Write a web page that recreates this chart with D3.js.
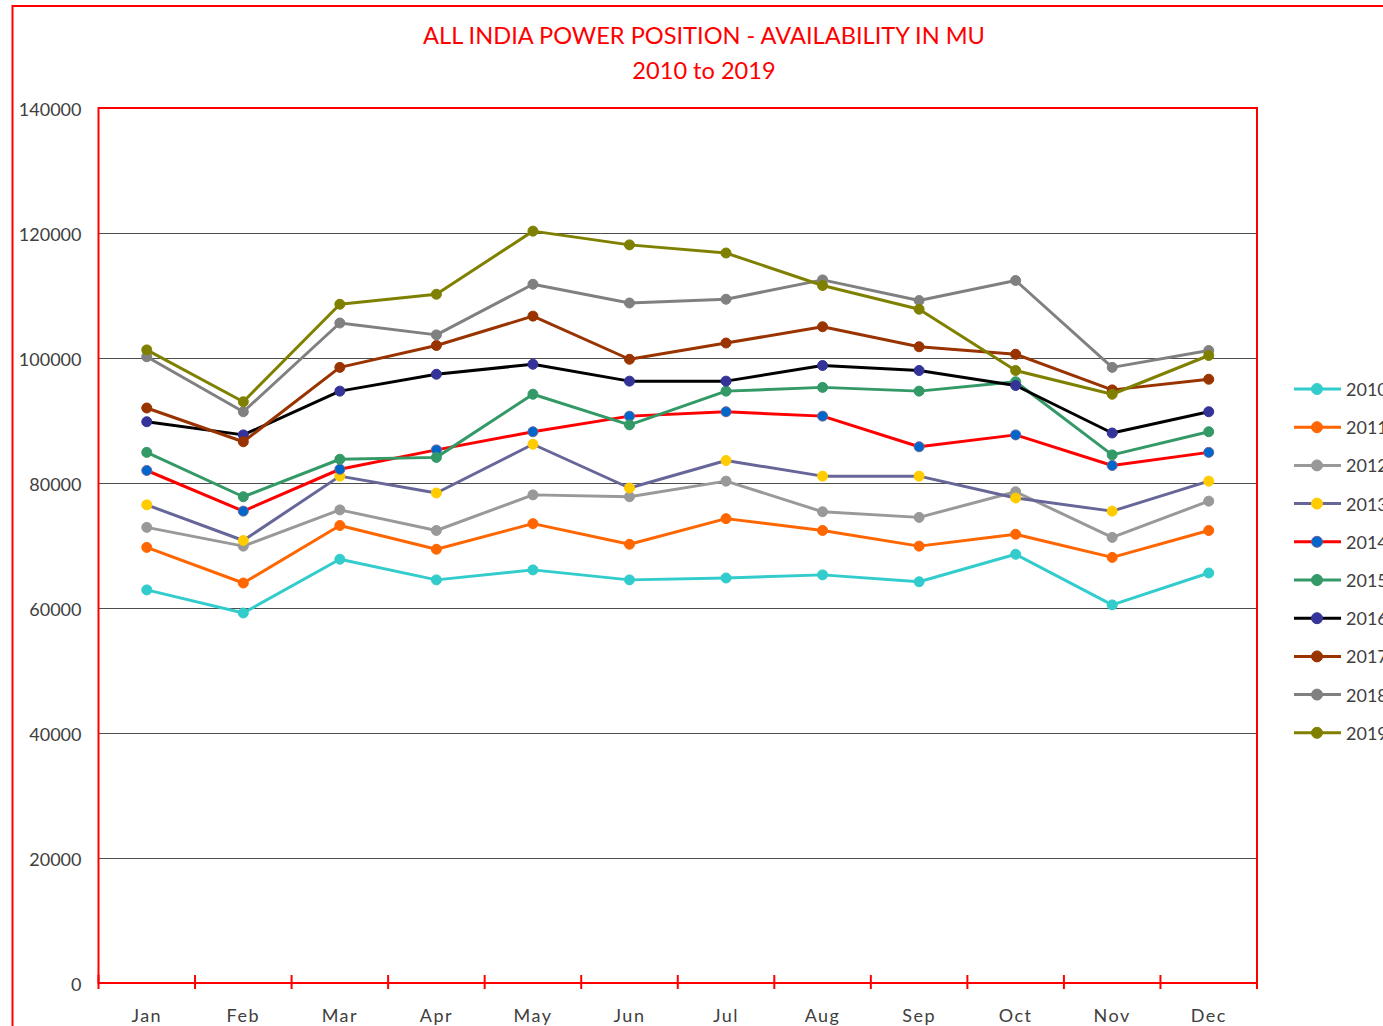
<!DOCTYPE html>
<html>
<head>
<meta charset="utf-8">
<script src="https://cdnjs.cloudflare.com/ajax/libs/d3/7.8.5/d3.min.js"></script>
<style>
  html, body { margin: 0; padding: 0; background: #fff; overflow: hidden; }
  svg { display: block; font-family: Lato, "Liberation Sans", sans-serif; }
</style>
</head>
<body>
<div id="chart"></div>
<script>
// DATA =====================================
const months = ["Jan", "Feb", "Mar", "Apr", "May", "Jun", "Jul", "Aug", "Sep", "Oct", "Nov", "Dec"];
const years = ["2010", "2011", "2012", "2013", "2014", "2015", "2016", "2017", "2018", "2019"];
const yTicks = [0, 20000, 40000, 60000, 80000, 100000, 120000, 140000];

const v2010 = [62900, 59200, 67800, 64500, 66100, 64500, 64800, 65300, 64200, 68600, 60500, 65600];
const v2011 = [69700, 64000, 73200, 69400, 73500, 70200, 74300, 72400, 69900, 71800, 68100, 72400];
const v2012 = [72900, 69900, 75700, 72400, 78100, 77800, 80300, 75400, 74500, 78600, 71300, 77100];
const v2013 = [76500, 70800, 81100, 78400, 86200, 79200, 83600, 81100, 81100, 77600, 75500, 80300];
const v2014 = [82000, 75500, 82200, 85300, 88200, 90700, 91400, 90700, 85800, 87700, 82800, 84900];
const v2015 = [84900, 77800, 83800, 84100, 94200, 89300, 94700, 95300, 94700, 96200, 84500, 88200];
const v2016 = [89800, 87700, 94700, 97400, 99000, 96300, 96300, 98800, 98000, 95600, 88000, 91400];
const v2017 = [92000, 86600, 98500, 102000, 106700, 99800, 102400, 105000, 101800, 100600, 94900, 96600];
const v2018 = [100200, 91400, 105600, 103700, 111800, 108800, 109400, 112500, 109200, 112400, 98500, 101200];
const v2019 = [101300, 93000, 108600, 110200, 120300, 118100, 116800, 111600, 107800, 98000, 94200, 100400];

const seriesValues = [v2010, v2011, v2012, v2013, v2014, v2015, v2016, v2017, v2018, v2019];

// line colour / marker fill / marker stroke per year
const lineColors   = ["#33CCCC", "#FF6600", "#999999", "#666699", "#FF0000", "#339966", "#000000", "#993300", "#808080", "#808000"];
const markerColors = ["#33CCCC", "#FF6600", "#999999", "#FFCC00", "#0066CC", "#339966", "#333399", "#993300", "#808080", "#808000"];
const markerStroke = ["#33CCCC", "#FF6600", "#999999", "#FFCC00", "#666699", "#339966", "#333399", "#993300", "#808080", "#808000"];

// LAYOUT ===================================
const width = 1383, height = 1026;
const plot = { left: 98.5, right: 1257, top: 108, bottom: 983 };

const svg = d3.select("#chart")
  .append("svg")
  .attr("width", width)
  .attr("height", height);

// outer chart frame (runs off the right/bottom edge)
svg.append("rect")
  .attr("x", 12.5)
  .attr("y", 6)
  .attr("width", width + 20)
  .attr("height", height + 20)
  .attr("fill", "none")
  .attr("stroke", "#FF0000")
  .attr("stroke-width", 2);

// title
svg.append("text")
  .attr("x", 704)
  .attr("y", 44)
  .attr("text-anchor", "middle")
  .attr("fill", "#FF0000")
  .style("font-size", "23.6px")
  .text("ALL INDIA POWER POSITION - AVAILABILITY IN MU");

svg.append("text")
  .attr("x", 704)
  .attr("y", 79)
  .attr("text-anchor", "middle")
  .attr("fill", "#FF0000")
  .style("font-size", "23.6px")
  .text("2010 to 2019");

// SCALES ===================================
const xScale = d3.scaleBand()
  .domain(months)
  .range([plot.left, plot.right])
  .padding(0);

const xPos = m => xScale(m) + xScale.bandwidth() / 2;

const yScale = d3.scaleLinear()
  .domain([0, 140000])
  .range([plot.bottom, plot.top]);

// gridlines
svg.append("g")
  .selectAll("line")
  .data(yTicks.filter(d => d > 0 && d < 140000))
  .join("line")
  .attr("x1", plot.left)
  .attr("x2", plot.right)
  .attr("y1", d => yScale(d) + 0.5)
  .attr("y2", d => yScale(d) + 0.5)
  .attr("stroke", "#4d4d4d")
  .attr("stroke-width", 1);

// plot area border
svg.append("rect")
  .attr("x", plot.left)
  .attr("y", plot.top)
  .attr("width", plot.right - plot.left)
  .attr("height", plot.bottom - plot.top)
  .attr("fill", "none")
  .attr("stroke", "#FF0000")
  .attr("stroke-width", 2);

// y axis labels
const yAxis = d3.axisLeft(yScale)
  .tickValues(yTicks)
  .tickSize(0)
  .tickPadding(17)
  .tickFormat(d3.format("d"));

svg.append("g")
  .attr("transform", `translate(${plot.left}, 2)`)
  .call(yAxis)
  .call(g => g.select(".domain").remove())
  .call(g => g.selectAll("text")
    .attr("fill", "#404040")
    .style("font-family", "Lato, 'Liberation Sans', sans-serif")
    .style("font-size", "18px"));

// x axis ticks at band edges
const edges = months.map(m => xScale(m)).concat([plot.right]);
svg.append("g")
  .selectAll("line")
  .data(edges)
  .join("line")
  .attr("x1", d => d)
  .attr("x2", d => d)
  .attr("y1", plot.bottom - 8)
  .attr("y2", plot.bottom + 6)
  .attr("stroke", "#FF0000")
  .attr("stroke-width", 2);

// x labels
svg.append("g")
  .selectAll("text")
  .data(months)
  .join("text")
  .attr("x", d => xPos(d))
  .attr("y", 1022)
  .attr("text-anchor", "middle")
  .attr("fill", "#404040")
  .style("font-size", "18px")
  .style("letter-spacing", "1.5px")
  .text(d => d);

// SERIES ===================================
const line = d3.line()
  .x((d, i) => xPos(months[i]))
  .y(d => yScale(d));

const seriesG = svg.append("g")
  .selectAll("g")
  .data(seriesValues)
  .join("g");

seriesG.append("path")
  .attr("d", d => line(d))
  .attr("fill", "none")
  .attr("stroke", (d, i) => lineColors[i])
  .attr("stroke-width", 3)
  .attr("stroke-linejoin", "round");

seriesG.each(function(vals, si) {
  d3.select(this)
    .selectAll("circle")
    .data(vals)
    .join("circle")
    .attr("cx", (d, i) => xPos(months[i]))
    .attr("cy", d => yScale(d))
    .attr("r", 5)
    .attr("fill", markerColors[si])
    .attr("stroke", markerStroke[si])
    .attr("stroke-width", 1);
});

// LEGEND ===================================
const legend = svg.append("g")
  .selectAll("g")
  .data(years)
  .join("g")
  .attr("transform", (d, i) => `translate(1294, ${389 + i * 38.2})`);

legend.append("line")
  .attr("x1", 0)
  .attr("x2", 47)
  .attr("stroke", (d, i) => lineColors[i])
  .attr("stroke-width", 3);

legend.append("circle")
  .attr("cx", 23)
  .attr("r", 5.5)
  .attr("fill", (d, i) => markerColors[i])
  .attr("stroke", (d, i) => markerStroke[i])
  .attr("stroke-width", 1);

legend.append("text")
  .attr("x", 52)
  .attr("y", 7)
  .attr("fill", "#404040")
  .style("font-size", "18px")
  .text(d => d);
</script>
</body>
</html>
